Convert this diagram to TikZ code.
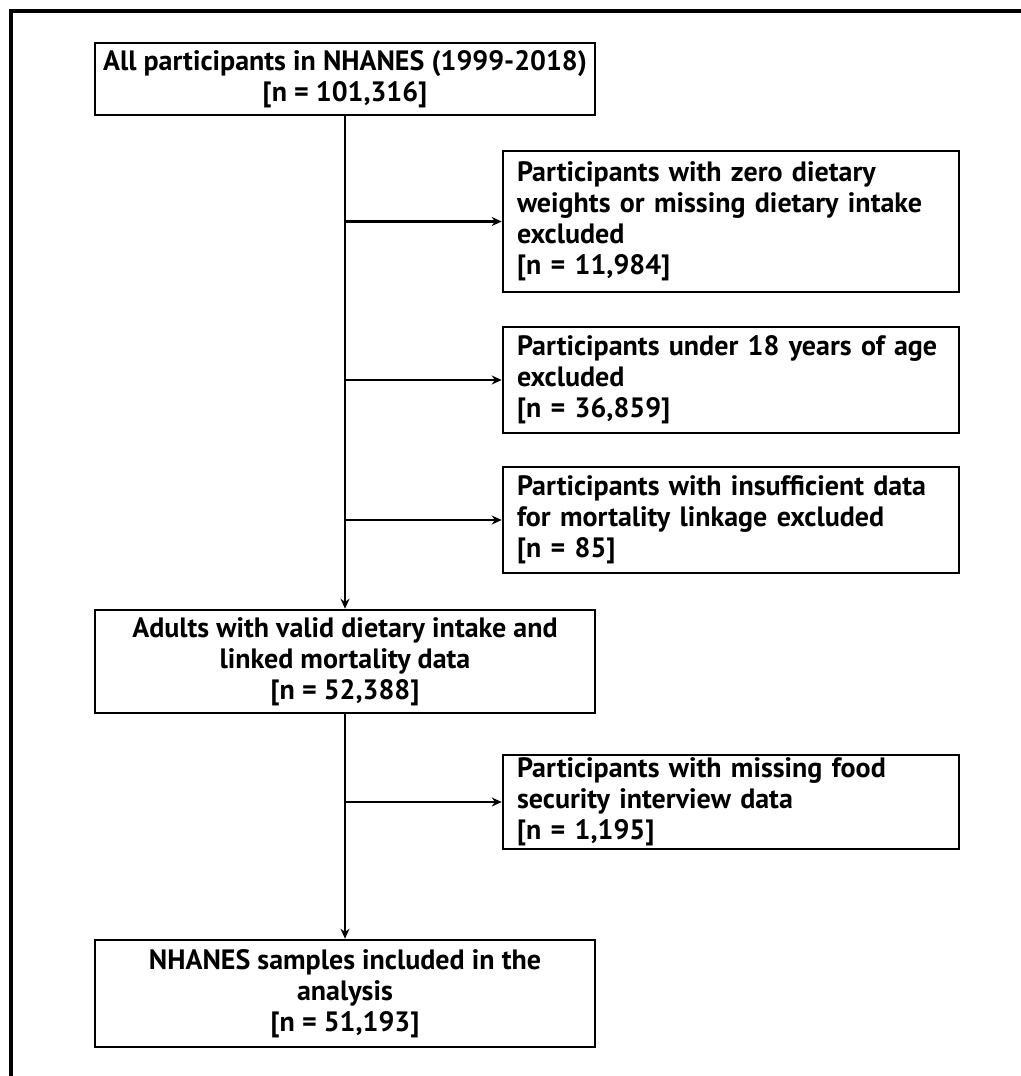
\documentclass[tikz,border=0pt]{standalone}
\usepackage{fontspec}
\setmainfont{PT Sans}
\usetikzlibrary{arrows.meta}
\tikzset{
    mainbox/.style={draw, line width=1.3pt, align=center, minimum width=250pt, inner sep=0pt, font=\bfseries\fontsize{14}{15.5}\selectfont},
    exbox/.style={draw, line width=1.3pt, align=left, text width=214pt, inner xsep=7pt, inner ysep=0pt, font=\bfseries\fontsize{14}{15.5}\selectfont},
    arr/.style={line width=1.2pt, -{Stealth[length=5pt, width=4.5pt]}}
}
\begin{document}
\begin{tikzpicture}[x=0.5pt, y=-0.5pt]
\useasboundingbox (0,0) rectangle (1021,1076);
\draw[line width=2pt] (11,1076) -- (11,11) -- (1021,11);

\node[mainbox, minimum height=36pt] (all) at (345,79) {All participants in NHANES (1999-2018)\\ {[n = 101,316]}};
\node[mainbox, minimum height=51.5pt] (adults) at (345,661.5) {Adults with valid dietary intake and\\ linked mortality data\\ {[n = 52,388]}};
\node[mainbox, minimum height=53.5pt] (final) at (345,993.5) {NHANES samples included in the\\ analysis\\ {[n = 51,193]}};

\node[exbox, minimum height=70.5pt] (zero) at (731,221.5) {Participants with zero dietary\\ weights or missing dietary intake\\ excluded\\ {[n = 11,984]}};
\node[exbox, minimum height=53pt] (under) at (731,380) {Participants under 18 years of age\\ excluded\\ {[n = 36,859]}};
\node[exbox, minimum height=53pt] (link) at (731,520) {Participants with insufficient data\\ for mortality linkage excluded\\ {[n = 85]}};
\node[exbox, minimum height=47pt] (food) at (731,802) {Participants with missing food\\ security interview data\\ {[n = 1,195]}};

\draw[arr] (all.south) -- (adults.north);
\draw[arr] (adults.south) -- (final.north);
\foreach \b in {zero,under,link,food}
{
    \draw[arr] (all.south |- \b.west) -- (\b.west);
}
\end{tikzpicture}
\end{document}
